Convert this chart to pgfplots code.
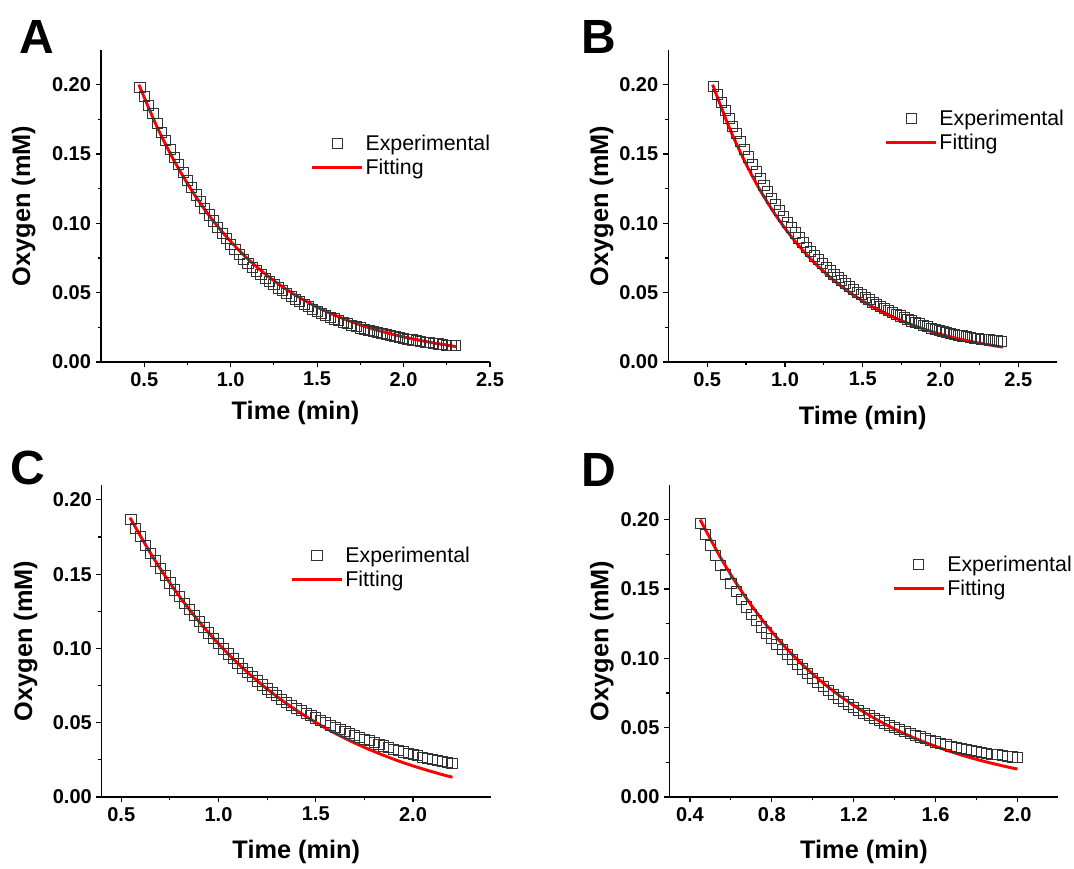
\documentclass[border=0pt]{standalone}
\usepackage{fontspec}
\setmainfont{Liberation Sans}
\usepackage{pgfplots}
\pgfplotsset{compat=1.18}
\pgfplotsset{
  panel/.style={
    width=291.75pt, height=234pt, scale only axis,
    axis x line*=bottom, axis y line*=left,
    axis line style={line width=0.9pt},
    tick align=outside, major tick length=4pt, minor tick length=2.5pt,
    every tick/.style={line width=0.9pt, black},
    minor tick num=1,
    ymin=0, ymax=0.225,
    ytick={0,0.05,0.1,0.15,0.2},
    scaled ticks=false,
    /pgf/number format/assume math mode=true,
    ticklabel style={font=\fontsize{15}{17}\selectfont\bfseries},
    yticklabel style={/pgf/number format/.cd, fixed, fixed zerofill, precision=2},
    xticklabel style={/pgf/number format/.cd, fixed, fixed zerofill, precision=1},
    label style={font=\fontsize{19}{22}\selectfont\bfseries},
    xlabel={Time (min)}, ylabel={Oxygen (mM)},
    legend style={draw=none, fill=none, font=\fontsize{16}{19}\selectfont, anchor=north west, row sep=2pt, nodes={inner sep=1.5pt}},
    legend cell align=left,
    legend image code/.code={\draw[mark repeat=2,mark phase=2,##1] plot coordinates {(0pt,0pt) (18.75pt,0pt) (37.5pt,0pt)};},
  },
  exper/.style={only marks, mark=square, mark size=3.8pt, mark options={draw=black!80, line width=0.65pt, fill=none}},
  fitl/.style={no marks, red, line width=2.2pt, smooth},
}
\begin{document}
\begin{tikzpicture}
\useasboundingbox (0,0) rectangle (805.5pt,651pt);
% ---------------- A ----------------
\begin{axis}[panel, at={(75.75pt,379.5pt)}, anchor=south west,
  xmin=0.25, xmax=2.5, xtick={0.5,1.0,1.5,2.0,2.5},
  xlabel style={at={(axis description cs:0.5,-0.163)}, anchor=center},
  ylabel style={at={(axis description cs:-0.199,0.5)}, anchor=center},
  legend style={at={(axis description cs:0.528,0.744)}}]
\addplot[exper] coordinates {(0.475,0.1981)(0.500,0.1915)(0.525,0.1852)(0.550,0.1791)(0.575,0.1723)(0.600,0.1658)(0.625,0.1596)(0.650,0.1535)(0.675,0.1477)(0.700,0.1422)(0.725,0.1365)(0.750,0.1311)(0.775,0.1257)(0.800,0.1205)(0.825,0.1156)(0.850,0.1108)(0.875,0.1061)(0.900,0.1017)(0.925,0.0973)(0.950,0.0930)(0.975,0.0889)(1.000,0.0849)(1.025,0.0811)(1.050,0.0773)(1.075,0.0742)(1.100,0.0713)(1.125,0.0684)(1.150,0.0657)(1.175,0.0630)(1.200,0.0605)(1.225,0.0580)(1.250,0.0557)(1.275,0.0534)(1.300,0.0513)(1.325,0.0492)(1.350,0.0472)(1.375,0.0452)(1.400,0.0434)(1.425,0.0416)(1.450,0.0399)(1.475,0.0382)(1.500,0.0366)(1.525,0.0351)(1.550,0.0336)(1.575,0.0323)(1.600,0.0311)(1.625,0.0299)(1.650,0.0287)(1.675,0.0276)(1.700,0.0266)(1.725,0.0256)(1.750,0.0246)(1.775,0.0236)(1.800,0.0227)(1.825,0.0219)(1.850,0.0212)(1.875,0.0205)(1.900,0.0197)(1.925,0.0190)(1.950,0.0184)(1.975,0.0177)(2.000,0.0171)(2.025,0.0165)(2.050,0.0159)(2.075,0.0154)(2.100,0.0149)(2.125,0.0144)(2.150,0.0139)(2.175,0.0135)(2.200,0.0130)(2.225,0.0126)(2.250,0.0122)(2.275,0.0120)(2.300,0.0119)};
\addlegendentry{Experimental}
\addplot[fitl] coordinates {(0.469,0.2000)(0.575,0.1693)(0.675,0.1447)(0.775,0.1237)(0.875,0.1057)(0.975,0.0904)(1.075,0.0772)(1.175,0.0660)(1.275,0.0564)(1.375,0.0482)(1.475,0.0412)(1.575,0.0352)(1.675,0.0301)(1.775,0.0257)(1.875,0.0220)(1.975,0.0188)(2.075,0.0161)(2.175,0.0137)(2.275,0.0117)(2.304,0.0110)};
\addlegendentry{Fitting}
\end{axis}
% ---------------- B ----------------
\begin{axis}[panel, at={(501.2pt,379.5pt)}, anchor=south west,
  xmin=0.25, xmax=2.75, xtick={0.5,1.0,1.5,2.0,2.5},
  xlabel style={at={(axis description cs:0.5,-0.179)}, anchor=center},
  ylabel style={at={(axis description cs:-0.1715,0.5)}, anchor=center},
  legend style={at={(axis description cs:0.545,0.824)}}]
\addplot[exper] coordinates {(0.540,0.1989)(0.565,0.1928)(0.590,0.1870)(0.615,0.1814)(0.640,0.1756)(0.665,0.1701)(0.690,0.1646)(0.715,0.1591)(0.740,0.1535)(0.765,0.1479)(0.790,0.1425)(0.815,0.1374)(0.840,0.1324)(0.865,0.1276)(0.890,0.1228)(0.915,0.1180)(0.940,0.1135)(0.965,0.1091)(0.990,0.1049)(1.015,0.1008)(1.040,0.0969)(1.065,0.0931)(1.090,0.0895)(1.115,0.0861)(1.140,0.0828)(1.165,0.0796)(1.190,0.0765)(1.215,0.0737)(1.240,0.0709)(1.265,0.0683)(1.290,0.0657)(1.315,0.0633)(1.340,0.0609)(1.365,0.0586)(1.390,0.0564)(1.415,0.0543)(1.440,0.0523)(1.465,0.0503)(1.490,0.0485)(1.515,0.0466)(1.540,0.0449)(1.565,0.0432)(1.590,0.0416)(1.615,0.0400)(1.640,0.0385)(1.665,0.0370)(1.690,0.0356)(1.715,0.0344)(1.740,0.0332)(1.765,0.0319)(1.790,0.0307)(1.815,0.0296)(1.840,0.0285)(1.865,0.0275)(1.890,0.0264)(1.915,0.0255)(1.940,0.0245)(1.965,0.0237)(1.990,0.0229)(2.015,0.0221)(2.040,0.0213)(2.065,0.0206)(2.090,0.0199)(2.115,0.0193)(2.140,0.0188)(2.165,0.0183)(2.190,0.0178)(2.215,0.0173)(2.240,0.0169)(2.265,0.0165)(2.290,0.0162)(2.315,0.0159)(2.340,0.0156)(2.365,0.0152)(2.390,0.0149)};
\addlegendentry{Experimental}
\addplot[fitl] coordinates {(0.535,0.2000)(0.640,0.1696)(0.740,0.1450)(0.840,0.1239)(0.940,0.1059)(1.040,0.0905)(1.140,0.0774)(1.240,0.0661)(1.340,0.0565)(1.440,0.0483)(1.540,0.0413)(1.640,0.0353)(1.740,0.0302)(1.840,0.0258)(1.940,0.0220)(2.040,0.0188)(2.140,0.0161)(2.240,0.0138)(2.340,0.0118)(2.400,0.0107)};
\addlegendentry{Fitting}
\end{axis}
% ---------------- C ----------------
\begin{axis}[panel, at={(76.35pt,53.25pt)}, anchor=south west,
  xmin=0.4, xmax=2.4, ymax=0.21, xtick={0.5,1.0,1.5,2.0},
  xlabel style={at={(axis description cs:0.5,-0.176)}, anchor=center},
  ylabel style={at={(axis description cs:-0.196,0.5)}, anchor=center},
  legend style={at={(axis description cs:0.474,0.817)}}]
\addplot[exper] coordinates {(0.550,0.1868)(0.575,0.1809)(0.600,0.1752)(0.625,0.1696)(0.650,0.1642)(0.675,0.1589)(0.700,0.1538)(0.725,0.1489)(0.750,0.1441)(0.775,0.1394)(0.800,0.1349)(0.825,0.1305)(0.850,0.1262)(0.875,0.1221)(0.900,0.1181)(0.925,0.1142)(0.950,0.1104)(0.975,0.1067)(1.000,0.1031)(1.025,0.0997)(1.050,0.0963)(1.075,0.0931)(1.100,0.0899)(1.125,0.0868)(1.150,0.0838)(1.175,0.0809)(1.200,0.0781)(1.225,0.0754)(1.250,0.0727)(1.275,0.0704)(1.300,0.0682)(1.325,0.0659)(1.350,0.0639)(1.375,0.0618)(1.400,0.0599)(1.425,0.0581)(1.450,0.0565)(1.475,0.0548)(1.500,0.0532)(1.525,0.0516)(1.550,0.0499)(1.575,0.0484)(1.600,0.0468)(1.625,0.0455)(1.650,0.0440)(1.675,0.0427)(1.700,0.0414)(1.725,0.0402)(1.750,0.0389)(1.775,0.0378)(1.800,0.0366)(1.825,0.0355)(1.850,0.0344)(1.875,0.0333)(1.900,0.0323)(1.925,0.0313)(1.950,0.0303)(1.975,0.0294)(2.000,0.0284)(2.025,0.0277)(2.050,0.0269)(2.075,0.0262)(2.100,0.0254)(2.125,0.0248)(2.150,0.0241)(2.175,0.0235)(2.200,0.0228)};
\addlegendentry{Experimental}
\addplot[fitl] coordinates {(0.545,0.1880)(0.650,0.1642)(0.750,0.1441)(0.850,0.1262)(0.950,0.1104)(1.050,0.0963)(1.150,0.0838)(1.250,0.0727)(1.350,0.0629)(1.450,0.0542)(1.550,0.0464)(1.650,0.0395)(1.750,0.0334)(1.850,0.0280)(1.950,0.0231)(2.050,0.0189)(2.150,0.0151)(2.203,0.0133)};
\addlegendentry{Fitting}
\end{axis}
% ---------------- D ----------------
\begin{axis}[panel, at={(502.1pt,53.25pt)}, anchor=south west,
  xmin=0.3, xmax=2.2, xtick={0.4,0.8,1.2,1.6,2.0},
  xlabel style={at={(axis description cs:0.5,-0.176)}, anchor=center},
  ylabel style={at={(axis description cs:-0.1735,0.5)}, anchor=center},
  legend style={at={(axis description cs:0.562,0.788)}}]
\addplot[exper] coordinates {(0.450,0.1972)(0.475,0.1893)(0.500,0.1817)(0.525,0.1742)(0.550,0.1670)(0.575,0.1602)(0.600,0.1539)(0.625,0.1481)(0.650,0.1425)(0.675,0.1371)(0.700,0.1319)(0.725,0.1271)(0.750,0.1226)(0.775,0.1183)(0.800,0.1142)(0.825,0.1103)(0.850,0.1065)(0.875,0.1029)(0.900,0.0994)(0.925,0.0958)(0.950,0.0924)(0.975,0.0891)(1.000,0.0858)(1.025,0.0826)(1.050,0.0796)(1.075,0.0766)(1.100,0.0738)(1.125,0.0714)(1.150,0.0690)(1.175,0.0667)(1.200,0.0645)(1.225,0.0625)(1.250,0.0605)(1.275,0.0586)(1.300,0.0568)(1.325,0.0551)(1.350,0.0534)(1.375,0.0519)(1.400,0.0503)(1.425,0.0488)(1.450,0.0473)(1.475,0.0459)(1.500,0.0445)(1.525,0.0433)(1.550,0.0420)(1.575,0.0408)(1.600,0.0397)(1.625,0.0386)(1.650,0.0377)(1.675,0.0367)(1.700,0.0359)(1.725,0.0350)(1.750,0.0342)(1.775,0.0334)(1.800,0.0327)(1.825,0.0321)(1.850,0.0315)(1.875,0.0309)(1.900,0.0304)(1.925,0.0298)(1.950,0.0293)(1.975,0.0289)(2.000,0.0285)};
\addlegendentry{Experimental}
\addplot[fitl] coordinates {(0.450,0.2000)(0.550,0.1725)(0.650,0.1488)(0.750,0.1283)(0.850,0.1106)(0.950,0.0954)(1.050,0.0823)(1.150,0.0710)(1.250,0.0612)(1.350,0.0528)(1.450,0.0455)(1.550,0.0393)(1.650,0.0339)(1.750,0.0292)(1.850,0.0252)(1.950,0.0217)(2.000,0.0202)};
\addlegendentry{Fitting}
\end{axis}
% panel letters
\node[font=\fontsize{36}{40}\selectfont\bfseries] at (27.5pt,622.9pt) {A};
\node[font=\fontsize{36}{40}\selectfont\bfseries] at (449.25pt,622.9pt) {B};
\node[font=\fontsize{36}{40}\selectfont\bfseries] at (21pt,300pt) {C};
\node[font=\fontsize{36}{40}\selectfont\bfseries] at (449.25pt,298.5pt) {D};
\end{tikzpicture}
\end{document}
